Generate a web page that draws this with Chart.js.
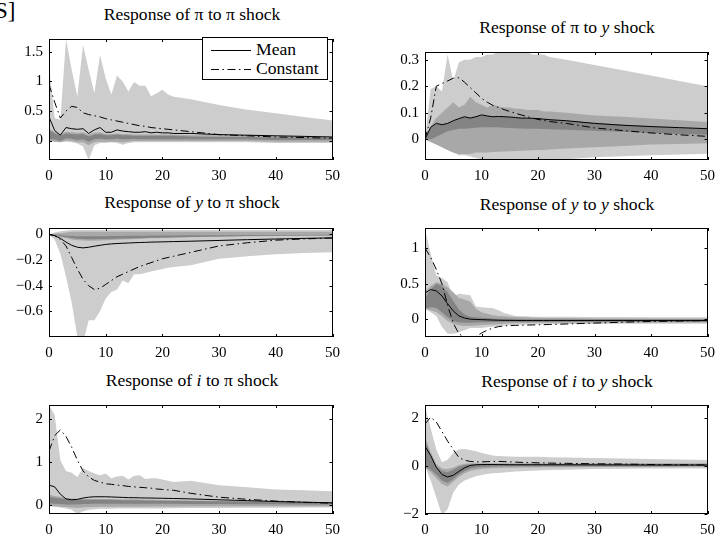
<!DOCTYPE html>
<html>
<head>
<meta charset="utf-8">
<script src="https://cdn.jsdelivr.net/npm/chart.js@4.4.1/dist/chart.umd.min.js"></script>
<style>
  html, body { margin: 0; padding: 0; background: #fff; }
  body { position: relative; width: 717px; height: 537px; overflow: hidden; font-family: "Liberation Serif", "Times New Roman", serif; color: #000; }
  canvas { position: absolute; }
  .ttl { position: absolute; font-size: 16px; line-height: 16px; white-space: nowrap; transform: translateX(-50%) scaleX(1.1); }
  .cut { position: absolute; left: -5px; top: -1px; font-size: 23px; line-height: 23px; }
  #legend { position: absolute; left: 202px; top: 37px; width: 126px; height: 43px; box-sizing: border-box; border: 1px solid #000; background: #fff; z-index: 5; }
  #legend svg { position: absolute; left: -1px; top: -1px; }
  #legend span { position: absolute; left: 53px; font-size: 16px; line-height: 16px; transform: scaleX(1.1); transform-origin: left center; }
</style>
</head>
<body>
<div class="cut">S]</div>
<div class="ttl" style="left:192px; top:7px">Response of π to π shock</div>
<div class="ttl" style="left:567px; top:20px">Response of π to <i>y</i> shock</div>
<div class="ttl" style="left:192px; top:195px">Response of <i>y</i> to π shock</div>
<div class="ttl" style="left:567px; top:197px">Response of <i>y</i> to <i>y</i> shock</div>
<div class="ttl" style="left:192px; top:373px">Response of <i>i</i> to π shock</div>
<div class="ttl" style="left:567px; top:374px">Response of <i>i</i> to <i>y</i> shock</div>
<div id="legend">
  <svg width="126" height="43">
    <line x1="9" y1="13.5" x2="49" y2="13.5" stroke="#000" stroke-width="1"/>
    <line x1="9" y1="32.5" x2="49" y2="32.5" stroke="#000" stroke-width="1" stroke-dasharray="8 3.5 1.5 3.5"/>
  </svg>
  <span style="top:4px">Mean</span>
  <span style="top:23px">Constant</span>
</div>
<script>
'use strict';
// horizonte das respostas (periodos)
const horizon = [0,1,2,3,4,5,6,7,8,9, 10,11,12,13,14,15,16,17,18,19, 20,21,22, 25,30,35,40,45,50];
const xTicks = [0, 10, 20, 30, 40, 50];

// pi -> pi
const ppLightHi = [1.25,0.38,0.35,1.72,1.2,0.75,1.62,1.2,0.8,1.45, 1.05,0.78,1.1,1.0,0.83,0.99,0.93,0.93,0.75,0.8, 0.86,0.78,0.74, 0.7,0.6,0.52,0.46,0.4,0.34];
const ppLightLo = [0.0,-0.02,-0.03,-0.02,-0.03,-0.05,-0.1,-0.33,-0.08,-0.04, -0.04,-0.03,-0.04,-0.07,-0.04,-0.03,-0.03,-0.03,-0.03,-0.03, -0.03,-0.03,-0.03, -0.03,-0.03,-0.03,-0.04,-0.04,-0.04];
const ppMidHi = [0.2,0.15,0.1,0.15,0.14,0.13,0.14,0.1,0.13,0.14, 0.11,0.11,0.12,0.11,0.11,0.1,0.1,0.1,0.1,0.1, 0.1,0.1,0.1, 0.09,0.09,0.08,0.07,0.07,0.06];
const ppMidLo = [0.0,-0.02,-0.03,0.0,-0.01,-0.03,-0.03,-0.08,-0.03,-0.02, -0.02,-0.02,-0.02,-0.03,-0.02,-0.01,-0.01,-0.01,-0.01,-0.01, -0.01,-0.01,-0.01, -0.01,-0.01,-0.01,-0.02,-0.02,-0.02];
const ppDarkHi = [0.18,0.12,0.08,0.12,0.11,0.1,0.11,0.07,0.1,0.11, 0.09,0.09,0.1,0.09,0.09,0.08,0.08,0.08,0.08,0.08, 0.08,0.08,0.08, 0.07,0.06,0.06,0.05,0.05,0.04];
const ppDarkLo = [0.02,0.02,-0.01,0.04,0.03,0.01,0.02,-0.02,0.02,0.03, 0.02,0.02,0.03,0.02,0.02,0.03,0.02,0.02,0.02,0.02, 0.02,0.02,0.02, 0.02,0.02,0.02,0.01,0.01,0.01];
const ppMean = [0.4,0.17,0.09,0.22,0.2,0.19,0.2,0.12,0.18,0.22, 0.14,0.14,0.18,0.16,0.15,0.14,0.14,0.15,0.13,0.14, 0.13,0.13,0.12, 0.12,0.1,0.09,0.08,0.07,0.06];
const ppConst = [0.95,0.65,0.38,0.5,0.58,0.56,0.47,0.44,0.42,0.4, 0.37,0.35,0.33,0.31,0.29,0.27,0.25,0.24,0.22,0.21, 0.2,0.19,0.18, 0.15,0.1,0.08,0.06,0.05,0.04];

// pi -> y
const pyLightHi = [0,0.19,0.2,0.18,0.32,0.22,0.29,0.3,0.3,0.31, 0.31,0.32,0.32,0.33,0.33,0.33,0.33,0.33,0.33,0.32, 0.32,0.32,0.31, 0.3,0.28,0.26,0.24,0.22,0.2];
const pyLightLo = [0,-0.01,-0.02,-0.03,-0.04,-0.05,-0.06,-0.06,-0.065,-0.07, -0.075,-0.08,-0.08,-0.08,-0.08,-0.08,-0.08,-0.08,-0.08,-0.08, -0.08,-0.08,-0.08, -0.075,-0.068,-0.064,-0.06,-0.057,-0.054];
const pyMidHi = [0,0.05,0.08,0.1,0.12,0.14,0.12,0.13,0.16,0.14, 0.13,0.12,0.13,0.125,0.12,0.12,0.115,0.115,0.11,0.11, 0.11,0.105,0.105, 0.1,0.09,0.085,0.078,0.072,0.065];
const pyMidLo = [0,-0.01,-0.02,-0.03,-0.04,-0.05,-0.055,-0.055,-0.055,-0.05, -0.05,-0.05,-0.048,-0.047,-0.046,-0.045,-0.044,-0.043,-0.042,-0.041, -0.04,-0.04,-0.038, -0.035,-0.03,-0.025,-0.02,-0.018,-0.015];
const pyDarkHi = [0,0.045,0.06,0.055,0.06,0.07,0.078,0.085,0.08,0.085, 0.092,0.088,0.085,0.086,0.085,0.084,0.082,0.08,0.08,0.079, 0.078,0.076,0.074, 0.07,0.062,0.055,0.049,0.044,0.04];
const pyDarkLo = [0,0.0,0.01,0.02,0.03,0.035,0.04,0.04,0.042,0.044, 0.045,0.045,0.045,0.045,0.044,0.043,0.042,0.041,0.04,0.04, 0.04,0.039,0.038, 0.036,0.032,0.028,0.024,0.02,0.017];
const pyMean = [0,0.045,0.06,0.055,0.06,0.07,0.078,0.085,0.08,0.085, 0.092,0.088,0.085,0.086,0.085,0.084,0.082,0.08,0.08,0.079, 0.078,0.076,0.074, 0.07,0.06,0.053,0.048,0.044,0.04];
const pyConst = [0,0.08,0.2,0.21,0.22,0.23,0.232,0.215,0.195,0.175, 0.155,0.14,0.128,0.12,0.112,0.105,0.098,0.092,0.086,0.08, 0.075,0.071,0.067, 0.06,0.043,0.033,0.024,0.017,0.011];

// y -> pi
const ypLightHi = [0,0.015,0.025,0.03,0.035,0.035,0.035,0.035,0.035,0.035, 0.035,0.035,0.035,0.035,0.035,0.035,0.035,0.035,0.035,0.035, 0.035,0.035,0.035, 0.035,0.035,0.035,0.035,0.035,0.035];
const ypLightLo = [0,-0.04,-0.15,-0.33,-0.53,-0.8,-0.85,-0.67,-0.67,-0.6, -0.5,-0.45,-0.43,-0.36,-0.38,-0.31,-0.31,-0.3,-0.29,-0.28, -0.27,-0.26,-0.255, -0.24,-0.19,-0.17,-0.155,-0.145,-0.14];
const ypMidHi = [0,0.005,0.01,0.015,0.02,0.02,0.02,0.02,0.02,0.02, 0.02,0.02,0.02,0.02,0.02,0.02,0.02,0.02,0.02,0.02, 0.02,0.02,0.02, 0.02,0.02,0.02,0.02,0.02,0.02];
const ypMidLo = [0,-0.01,-0.02,-0.03,-0.04,-0.045,-0.048,-0.05,-0.05,-0.048, -0.046,-0.044,-0.042,-0.04,-0.038,-0.036,-0.034,-0.032,-0.03,-0.03, -0.028,-0.027,-0.026, -0.022,-0.018,-0.015,-0.012,-0.01,-0.008];
const ypDarkHi = [0,0,-0.005,-0.01,-0.012,-0.015,-0.015,-0.015,-0.015,-0.015, -0.014,-0.013,-0.012,-0.012,-0.011,-0.01,-0.01,-0.01,-0.009,-0.009, -0.008,-0.008,-0.008, -0.007,-0.006,-0.005,-0.004,-0.004,-0.003];
const ypDarkLo = [0,-0.005,-0.015,-0.02,-0.028,-0.033,-0.036,-0.037,-0.037,-0.036, -0.035,-0.034,-0.033,-0.032,-0.031,-0.03,-0.029,-0.028,-0.027,-0.026, -0.025,-0.024,-0.023, -0.02,-0.016,-0.013,-0.011,-0.009,-0.008];
const ypMean = [0,-0.01,-0.03,-0.06,-0.085,-0.1,-0.105,-0.1,-0.092,-0.085, -0.078,-0.074,-0.071,-0.069,-0.067,-0.065,-0.063,-0.062,-0.06,-0.059, -0.058,-0.057,-0.056, -0.053,-0.047,-0.041,-0.036,-0.031,-0.027];
const ypConst = [0,-0.01,-0.04,-0.09,-0.18,-0.27,-0.35,-0.4,-0.43,-0.42, -0.39,-0.36,-0.33,-0.31,-0.29,-0.27,-0.25,-0.235,-0.22,-0.205, -0.19,-0.18,-0.17, -0.14,-0.09,-0.065,-0.045,-0.035,-0.028];

// y -> y
const yyLightHi = [1.27,0.92,0.62,0.58,0.52,0.32,0.36,0.35,0.34,0.18, 0.17,0.165,0.16,0.13,0.09,0.07,0.05,0.045,0.045,0.04, 0.04,0.04,0.04, 0.04,0.035,0.035,0.03,0.03,0.03];
const yyLightLo = [0.15,0.1,0.05,-0.1,-0.2,-0.2,-0.18,-0.15,-0.12,-0.12, -0.12,-0.11,-0.1,-0.09,-0.085,-0.08,-0.075,-0.072,-0.07,-0.07, -0.068,-0.066,-0.065, -0.063,-0.062,-0.06,-0.06,-0.06,-0.06];
const yyMidHi = [0.4,0.47,0.52,0.5,0.45,0.38,0.3,0.28,0.25,0.15, 0.1,0.08,0.06,0.05,0.045,0.04,0.035,0.03,0.03,0.025, 0.025,0.02,0.02, 0.02,0.015,0.015,0.015,0.015,0.015];
const yyMidLo = [0.15,0.13,0.1,0.05,-0.02,-0.06,-0.08,-0.09,-0.09,-0.085, -0.08,-0.075,-0.07,-0.065,-0.06,-0.056,-0.053,-0.05,-0.048,-0.047, -0.046,-0.045,-0.045, -0.044,-0.043,-0.043,-0.043,-0.043,-0.043];
const yyDarkHi = [0.3,0.42,0.5,0.47,0.38,0.26,0.14,0.07,0.04,0.03, 0.025,0.02,0.015,0.012,0.01,0.01,0.008,0.006,0.005,0.005, 0.004,0.004,0.004, 0.003,0.003,0.003,0.003,0.003,0.003];
const yyDarkLo = [0.15,0.17,0.16,0.1,0.03,-0.02,-0.04,-0.045,-0.045,-0.042, -0.04,-0.038,-0.036,-0.034,-0.032,-0.031,-0.03,-0.03,-0.03,-0.03, -0.03,-0.03,-0.03, -0.03,-0.03,-0.03,-0.03,-0.03,-0.03];
const yyMean = [0.37,0.42,0.4,0.33,0.22,0.12,0.05,0.02,0.005,0.0, -0.002,-0.005,-0.008,-0.01,-0.012,-0.013,-0.014,-0.015,-0.015,-0.015, -0.015,-0.015,-0.015, -0.015,-0.015,-0.015,-0.015,-0.015,-0.015];
const yyConst = [1.0,0.87,0.7,0.5,0.2,-0.05,-0.2,-0.25,-0.27,-0.24, -0.19,-0.15,-0.12,-0.1,-0.09,-0.085,-0.082,-0.08,-0.078,-0.076, -0.074,-0.072,-0.07, -0.063,-0.05,-0.038,-0.028,-0.022,-0.015];

// i -> pi
const ipLightHi = [2.33,2.1,1.05,0.8,0.76,0.66,0.87,0.8,0.74,0.7, 0.74,0.63,0.67,0.69,0.6,0.69,0.7,0.61,0.63,0.63, 0.6,0.57,0.54, 0.57,0.47,0.42,0.37,0.35,0.33];
const ipLightLo = [0.0,-0.03,-0.05,-0.07,-0.1,-0.2,-0.14,-0.1,-0.09,-0.08, -0.08,-0.08,-0.07,-0.07,-0.07,-0.07,-0.07,-0.07,-0.07,-0.07, -0.07,-0.065,-0.065, -0.06,-0.06,-0.055,-0.055,-0.05,-0.05];
const ipMidHi = [0.25,0.22,0.2,0.17,0.16,0.15,0.15,0.15,0.15,0.15, 0.15,0.15,0.145,0.14,0.14,0.14,0.135,0.13,0.13,0.13, 0.125,0.12,0.12, 0.115,0.11,0.1,0.09,0.08,0.07];
const ipMidLo = [-0.02,-0.02,-0.03,-0.04,-0.05,-0.06,-0.05,-0.04,-0.035,-0.03, -0.03,-0.03,-0.03,-0.03,-0.03,-0.03,-0.03,-0.03,-0.025,-0.025, -0.025,-0.025,-0.025, -0.02,-0.02,-0.02,-0.02,-0.02,-0.02];
const ipDarkHi = [0.2,0.18,0.16,0.14,0.13,0.13,0.13,0.13,0.13,0.13, 0.13,0.13,0.125,0.12,0.12,0.12,0.12,0.115,0.115,0.11, 0.11,0.11,0.105, 0.1,0.095,0.09,0.085,0.075,0.065];
const ipDarkLo = [0.05,0.04,0.03,0.02,0.02,0.02,0.03,0.035,0.04,0.04, 0.04,0.04,0.04,0.04,0.04,0.04,0.04,0.04,0.04,0.04, 0.04,0.038,0.036, 0.034,0.03,0.028,0.025,0.022,0.02];
const ipMean = [0.47,0.43,0.26,0.15,0.13,0.14,0.17,0.19,0.2,0.2, 0.2,0.195,0.19,0.185,0.18,0.178,0.175,0.172,0.17,0.168, 0.165,0.162,0.16, 0.15,0.13,0.11,0.09,0.075,0.06];
const ipConst = [1.26,1.62,1.75,1.6,1.35,1.05,0.8,0.66,0.58,0.54, 0.5,0.49,0.47,0.46,0.44,0.43,0.42,0.41,0.4,0.38, 0.37,0.36,0.35, 0.28,0.19,0.14,0.1,0.07,0.05];

// i -> y
const iyLightHi = [2.5,1.6,0.7,0.16,0.27,0.56,0.7,0.72,0.68,0.62, 0.56,0.5,0.45,0.43,0.42,0.41,0.4,0.4,0.4,0.4, 0.39,0.38,0.37, 0.36,0.34,0.32,0.3,0.28,0.26];
const iyLightLo = [0,-0.6,-1.3,-2.05,-1.8,-1.1,-0.77,-0.6,-0.5,-0.42, -0.37,-0.33,-0.3,-0.28,-0.26,-0.24,-0.22,-0.21,-0.2,-0.19, -0.18,-0.17,-0.16, -0.15,-0.12,-0.11,-0.1,-0.1,-0.1];
const iyMidHi = [1.25,0.6,0.1,-0.1,-0.12,-0.05,0.05,0.1,0.12,0.12, 0.12,0.12,0.12,0.12,0.12,0.12,0.12,0.12,0.12,0.12, 0.12,0.12,0.12, 0.12,0.12,0.12,0.12,0.12,0.12];
const iyMidLo = [-0.05,-0.25,-0.5,-0.75,-0.85,-0.65,-0.45,-0.3,-0.2,-0.15, -0.12,-0.1,-0.09,-0.08,-0.07,-0.06,-0.06,-0.05,-0.05,-0.05, -0.05,-0.04,-0.04, -0.04,-0.03,-0.03,-0.03,-0.03,-0.03];
const iyDarkHi = [1.1,0.45,0.0,-0.2,-0.25,-0.15,-0.02,0.05,0.08,0.08, 0.08,0.08,0.08,0.08,0.08,0.08,0.08,0.08,0.08,0.08, 0.08,0.08,0.08, 0.08,0.08,0.075,0.075,0.07,0.07];
const iyDarkLo = [0.0,-0.15,-0.35,-0.6,-0.7,-0.55,-0.35,-0.2,-0.1,-0.05, -0.03,-0.02,-0.01,0,0,0,0,0,0,0, 0,0,0, 0,0,0,0,0.01,0.01];
const iyMean = [0.83,0.45,-0.05,-0.35,-0.45,-0.38,-0.22,-0.07,0.03,0.06, 0.07,0.07,0.07,0.065,0.065,0.06,0.06,0.06,0.06,0.06, 0.06,0.06,0.06, 0.06,0.055,0.055,0.05,0.05,0.05];
const iyConst = [1.76,2.05,1.85,1.45,1.05,0.7,0.36,0.25,0.2,0.18, 0.18,0.19,0.2,0.2,0.19,0.18,0.17,0.16,0.15,0.15, 0.14,0.14,0.13, 0.12,0.1,0.09,0.07,0.06,0.05];

// cores das bandas
const LIGHT = '#cdcdcd';
const MID = '#a8a8a8';
const DARK = '#848484';

const axisFont = { family: '"Liberation Serif", "Times New Roman", serif', size: 15 };
const Y_AXIS_W = 48, X_AXIS_H = 30, PAD_TOP = 10, PAD_RIGHT = 12;

const fmt = (v) => v < 0 ? '\u2212' + String(-v) : String(v);
const pts = (arr) => horizon.map((h, i) => ({ x: h, y: arr[i] }));

// caixa e tiques internos (estilo matlab)
const frame = {
    id: 'frame',
    afterDraw(chart) {
        const { ctx, chartArea: a, scales: { x, y } } = chart;
        ctx.save();
        ctx.strokeStyle = '#000';
        ctx.lineWidth = 1;
        ctx.beginPath();
        x.ticks.forEach(t => {
            const px = Math.round(x.getPixelForValue(t.value)) + 0.5;
            ctx.moveTo(px, a.bottom); ctx.lineTo(px, a.bottom - 3);
            ctx.moveTo(px, a.top); ctx.lineTo(px, a.top + 3);
        });
        y.ticks.forEach(t => {
            const py = Math.round(y.getPixelForValue(t.value)) + 0.5;
            ctx.moveTo(a.left, py); ctx.lineTo(a.left + 3, py);
            ctx.moveTo(a.right, py); ctx.lineTo(a.right - 3, py);
        });
        ctx.stroke();
        ctx.strokeRect(Math.round(a.left) + 0.5, Math.round(a.top) + 0.5,
            Math.round(a.right - a.left) - 1, Math.round(a.bottom - a.top) - 1);
        ctx.restore();
    }
};

function band(lo, hi, color, order) {
    return [
        { data: pts(lo), borderColor: 'rgba(0,0,0,0)', borderWidth: 0, pointRadius: 0, fill: false, order: order + 1 },
        { data: pts(hi), borderColor: 'rgba(0,0,0,0)', borderWidth: 0, pointRadius: 0, fill: '-1', backgroundColor: color, order: order }
    ];
}

function panel(box, yMin, yMax, yTicks, s) {
    const cv = document.createElement('canvas');
    cv.width = box.right - box.left + Y_AXIS_W + PAD_RIGHT;
    cv.height = box.bottom - box.top + PAD_TOP + X_AXIS_H;
    cv.style.left = (box.left - Y_AXIS_W) + 'px';
    cv.style.top = (box.top - PAD_TOP) + 'px';
    document.body.appendChild(cv);

    return new Chart(cv.getContext('2d'), {
        type: 'line',
        plugins: [frame],
        data: {
            datasets: [
                ...band(s.lightLo, s.lightHi, LIGHT, 6),
                ...band(s.midLo, s.midHi, MID, 4),
                ...band(s.darkLo, s.darkHi, DARK, 2),
                { label: 'Mean', data: pts(s.mean), borderColor: '#000', borderWidth: 1, pointRadius: 0, fill: false, order: 0 },
                { label: 'Constant', data: pts(s.constant), borderColor: '#000', borderWidth: 1, borderDash: [8, 3.5, 1.5, 3.5], pointRadius: 0, fill: false, order: 1 }
            ]
        },
        options: {
            animation: false,
            responsive: false,
            events: [],
            layout: { padding: { top: PAD_TOP, right: PAD_RIGHT, left: 0, bottom: 0 } },
            elements: { line: { tension: 0 } },
            plugins: { legend: { display: false }, tooltip: { enabled: false } },
            scales: {
                x: {
                    type: 'linear', min: 0, max: 50,
                    afterBuildTicks: (sc) => { sc.ticks = xTicks.map(v => ({ value: v })); },
                    afterFit: (sc) => { sc.height = X_AXIS_H; },
                    ticks: { font: axisFont, color: '#000', padding: 7, maxRotation: 0, autoSkip: false },
                    grid: { display: false, drawTicks: false },
                    border: { display: false }
                },
                y: {
                    type: 'linear', min: yMin, max: yMax,
                    afterBuildTicks: (sc) => { sc.ticks = yTicks.map(v => ({ value: v })); },
                    afterFit: (sc) => { sc.width = Y_AXIS_W; },
                    ticks: { font: axisFont, color: '#000', padding: 6, callback: fmt, autoSkip: false },
                    grid: { display: false, drawTicks: false },
                    border: { display: false }
                }
            }
        }
    });
}

panel({ left: 49, right: 335, top: 34, bottom: 160 }, -0.33, 1.72, [0, 0.5, 1, 1.5],
    { lightLo: ppLightLo, lightHi: ppLightHi, midLo: ppMidLo, midHi: ppMidHi, darkLo: ppDarkLo, darkHi: ppDarkHi, mean: ppMean, constant: ppConst });
panel({ left: 425, right: 710, top: 47, bottom: 160 }, -0.078, 0.329, [0, 0.1, 0.2, 0.3],
    { lightLo: pyLightLo, lightHi: pyLightHi, midLo: pyMidLo, midHi: pyMidHi, darkLo: pyDarkLo, darkHi: pyDarkHi, mean: pyMean, constant: pyConst });
panel({ left: 49, right: 335, top: 223, bottom: 337 }, -0.8, 0.05, [-0.6, -0.4, -0.2, 0],
    { lightLo: ypLightLo, lightHi: ypLightHi, midLo: ypMidLo, midHi: ypMidHi, darkLo: ypDarkLo, darkHi: ypDarkHi, mean: ypMean, constant: ypConst });
panel({ left: 425, right: 710, top: 223, bottom: 337 }, -0.245, 1.28, [0, 0.5, 1],
    { lightLo: yyLightLo, lightHi: yyLightHi, midLo: yyMidLo, midHi: yyMidHi, darkLo: yyDarkLo, darkHi: yyDarkHi, mean: yyMean, constant: yyConst });
panel({ left: 49, right: 335, top: 400, bottom: 514 }, -0.2, 2.33, [0, 1, 2],
    { lightLo: ipLightLo, lightHi: ipLightHi, midLo: ipMidLo, midHi: ipMidHi, darkLo: ipDarkLo, darkHi: ipDarkHi, mean: ipMean, constant: ipConst });
panel({ left: 425, right: 710, top: 400, bottom: 514 }, -2, 2.56, [-2, 0, 2],
    { lightLo: iyLightLo, lightHi: iyLightHi, midLo: iyMidLo, midHi: iyMidHi, darkLo: iyDarkLo, darkHi: iyDarkHi, mean: iyMean, constant: iyConst });
</script>
</body>
</html>
